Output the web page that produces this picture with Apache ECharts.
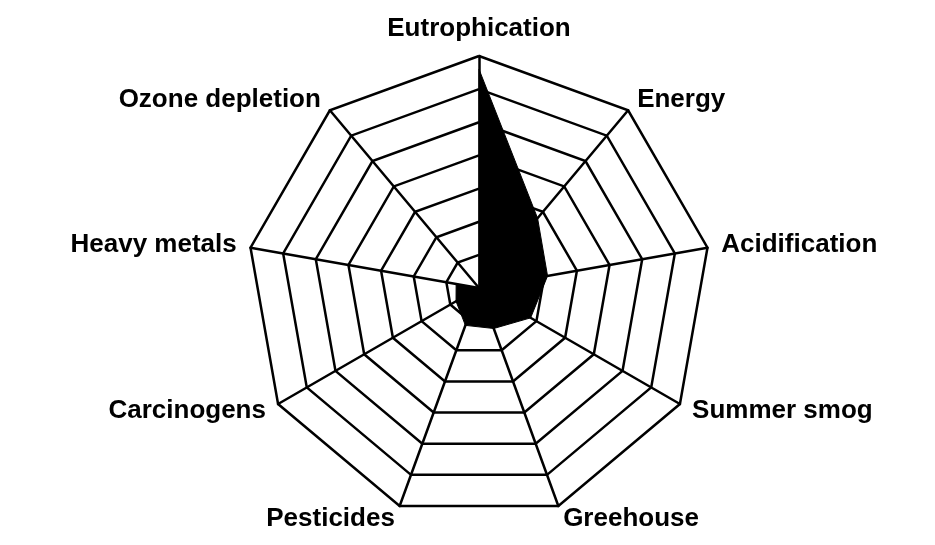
<!DOCTYPE html>
<html>
<head>
<meta charset="utf-8">
<script src="https://cdn.jsdelivr.net/npm/echarts@6/dist/echarts.min.js"></script>
<style>
  html, body { margin: 0; padding: 0; background: #fff; }
  #chart { width: 935px; height: 545px; }
</style>
</head>
<body>
<div id="chart"></div>
<script>
// impact categories, from the top axis going counter-clockwise (echarts radar order)
var categories = ['Eutrophication', 'Ozone depletion', 'Heavy metals', 'Carcinogens',
  'Pesticides', 'Greehouse', 'Summer smog', 'Acidification', 'Energy'];
// normalised scores, same order (7 rings)
var scores = [6.6, 0, 0.7, 0.8, 1.2, 1.3, 1.8, 2.1, 2.75];
var ringCount = 7;

var myChart = echarts.init(document.getElementById('chart'));

myChart.setOption({
  animation: false,
  radar: {
    center: [479, 288],
    radius: 232,
    startAngle: 90,
    shape: 'polygon',
    splitNumber: ringCount,
    indicator: categories.map(function (name) {
      return { name: name, min: 0, max: ringCount };
    }),
    axisName: {
      color: '#000',
      fontFamily: 'Liberation Sans, Arial, sans-serif',
      fontWeight: 'bold',
      fontSize: 26
    },
    nameGap: 14,
    axisLine: { lineStyle: { color: '#000', width: 2.5 } },
    splitLine: { lineStyle: { color: '#000', width: 2.5 } },
    splitArea: { show: false }
  },
  series: [{
    type: 'radar',
    symbol: 'none',
    lineStyle: { color: '#000', width: 1 },
    areaStyle: { color: '#000', opacity: 1 },
    data: [{ value: scores, name: 'score' }]
  }]
});
</script>
</body>
</html>
